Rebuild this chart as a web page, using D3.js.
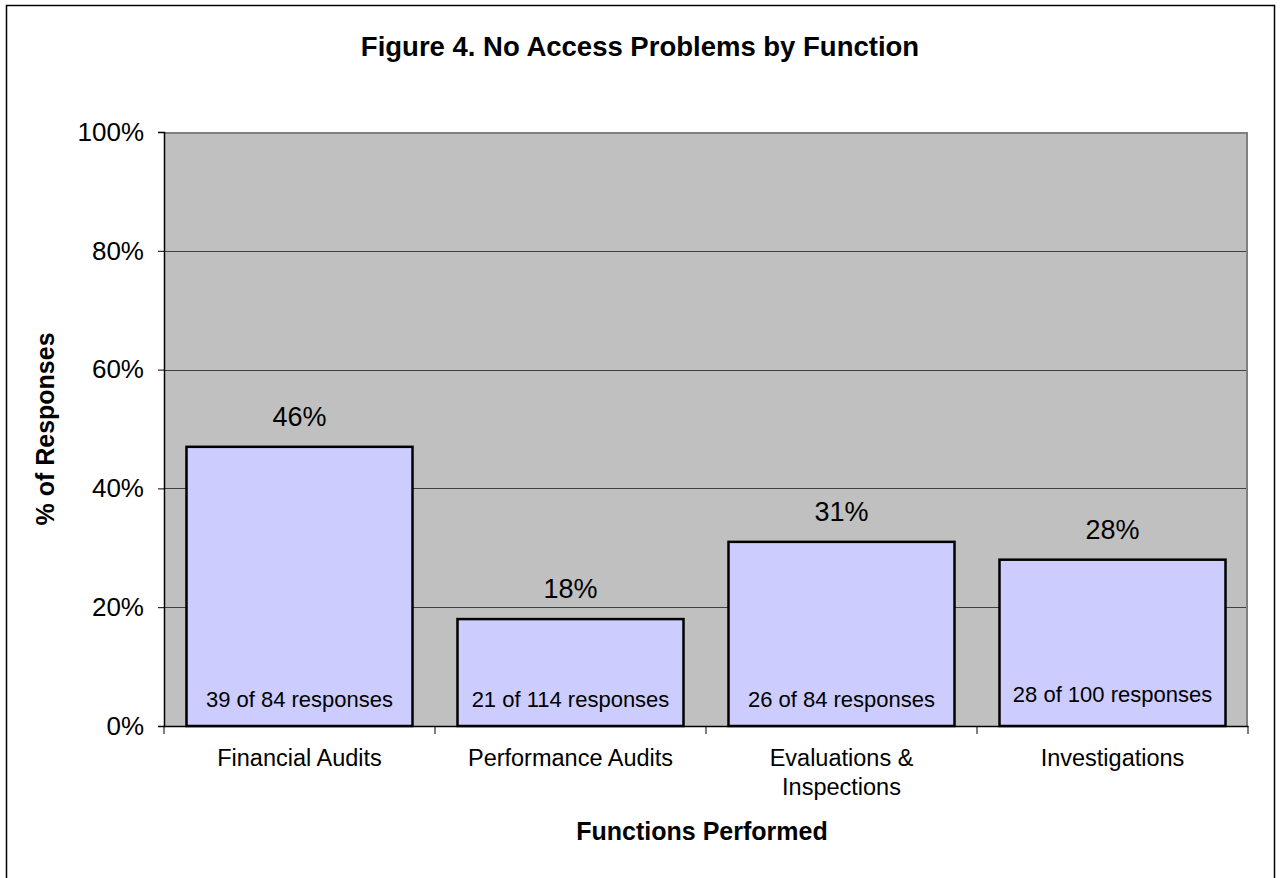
<!DOCTYPE html>
<html>
<head>
<meta charset="utf-8">
<script src="https://cdn.jsdelivr.net/npm/d3@7"></script>
<style>
  html, body { margin: 0; padding: 0; background: #fff; }
  svg text { font-family: Arial, "Liberation Sans", sans-serif; fill: #000; }
</style>
</head>
<body>
<svg id="chart" width="1284" height="878"></svg>
<script>
const categories = ["Financial Audits", "Performance Audits", "Evaluations & Inspections", "Investigations"];
const categoryLines = [["Financial Audits"], ["Performance Audits"], ["Evaluations &", "Inspections"], ["Investigations"]];
const values = [47, 18, 31, 28];
const valueLabels = ["46%", "18%", "31%", "28%"];
const responseLabels = ["39 of 84 responses", "21 of 114 responses", "26 of 84 responses", "28 of 100 responses"];
const yTicks = [0, 20, 40, 60, 80, 100];
const title = "Figure 4. No Access Problems by Function";
const xTitle = "Functions Performed";
const yTitle = "% of Responses";

const svg = d3.select("#chart");
const plot = { left: 164, right: 1248, top: 132, bottom: 726 };

// outer frame
svg.append("rect").attr("x", 6.5).attr("y", 5.5).attr("width", 1268).attr("height", 900)
  .attr("fill", "#fff").attr("stroke", "#000").attr("stroke-width", 1.5);

const x = d3.scaleBand().domain(categories).range([plot.left, plot.right])
  .paddingInner(0.166).paddingOuter(0.083);
const y = d3.scaleLinear().domain([0, 100]).range([plot.bottom, plot.top]);

// plot background
svg.append("rect").attr("x", plot.left).attr("y", plot.top)
  .attr("width", plot.right - plot.left).attr("height", plot.bottom - plot.top)
  .attr("fill", "#c0c0c0");

// gridlines
svg.append("g").selectAll("line").data(yTicks.filter(t => t > 0 && t < 100)).join("line")
  .attr("x1", plot.left).attr("x2", plot.right)
  .attr("y1", d => Math.round(y(d)) + 0.5).attr("y2", d => Math.round(y(d)) + 0.5)
  .attr("stroke", "#404040").attr("stroke-width", 1);

// plot border top & right (gray)
svg.append("path")
  .attr("d", `M${plot.left},${plot.top + 1}H${plot.right - 1}V${plot.bottom}`)
  .attr("fill", "none").attr("stroke", "#808080").attr("stroke-width", 2);

// bars
svg.append("g").selectAll("rect").data(categories).join("rect")
  .attr("x", d => x(d)).attr("width", x.bandwidth())
  .attr("y", (d, i) => y(values[i])).attr("height", (d, i) => y(0) - y(values[i]))
  .attr("fill", "#ccccff").attr("stroke", "#000").attr("stroke-width", 2.5);

// value labels
svg.append("g").selectAll("text").data(categories).join("text")
  .attr("x", d => x(d) + x.bandwidth() / 2)
  .attr("y", (d, i) => y(values[i]) - 21)
  .attr("text-anchor", "middle").attr("font-size", 27)
  .text((d, i) => valueLabels[i]);

// response labels inside bars
svg.append("g").selectAll("text").data(categories).join("text")
  .attr("x", d => x(d) + x.bandwidth() / 2)
  .attr("y", (d, i) => y(0) - 19 - (i === 3 ? 5 : 0))
  .attr("text-anchor", "middle").attr("font-size", 22)
  .text((d, i) => responseLabels[i]);

// y axis
const yAxis = svg.append("g").attr("transform", `translate(${plot.left},0)`)
  .call(d3.axisLeft(y).tickValues(yTicks).tickFormat(d => d + "%").tickSize(6).tickPadding(14));
yAxis.select(".domain").attr("stroke", "#000").attr("stroke-width", 1.5);
yAxis.selectAll(".tick line").attr("stroke", "#000");
yAxis.selectAll(".tick text").attr("font-size", 26).attr("fill", "#000")
  .attr("font-family", "Arial, 'Liberation Sans', sans-serif");

// x axis
const xAxis = svg.append("g").attr("transform", `translate(0,${plot.bottom})`)
  .call(d3.axisBottom(x).tickSize(0).tickFormat(""));
xAxis.select(".domain").attr("stroke", "#000").attr("stroke-width", 1.5);
const step = x.step();
const boundaries = d3.range(categories.length + 1).map(i => plot.left + i * step);
xAxis.append("g").selectAll("line").data(boundaries).join("line")
  .attr("x1", d => d).attr("x2", d => d).attr("y1", 0).attr("y2", 8)
  .attr("stroke", "#000").attr("stroke-width", 1);

// category labels
const catG = svg.append("g").selectAll("text").data(categories).join("text")
  .attr("x", d => x(d) + x.bandwidth() / 2).attr("y", 766)
  .attr("text-anchor", "middle").attr("font-size", 23.5);
catG.each(function (d, i) {
  const t = d3.select(this);
  categoryLines[i].forEach((line, j) => {
    t.append("tspan").attr("x", x(d) + x.bandwidth() / 2).attr("dy", j === 0 ? 0 : 29).text(line);
  });
});

// titles
svg.append("text").attr("x", 640).attr("y", 56).attr("text-anchor", "middle")
  .attr("font-size", 27.5).attr("font-weight", "bold").text(title);
svg.append("text").attr("x", 702).attr("y", 840).attr("text-anchor", "middle")
  .attr("font-size", 25).attr("font-weight", "bold").text(xTitle);
svg.append("text").attr("transform", `translate(54,429) rotate(-90)`).attr("text-anchor", "middle")
  .attr("font-size", 25).attr("font-weight", "bold").text(yTitle);
</script>
</body>
</html>
